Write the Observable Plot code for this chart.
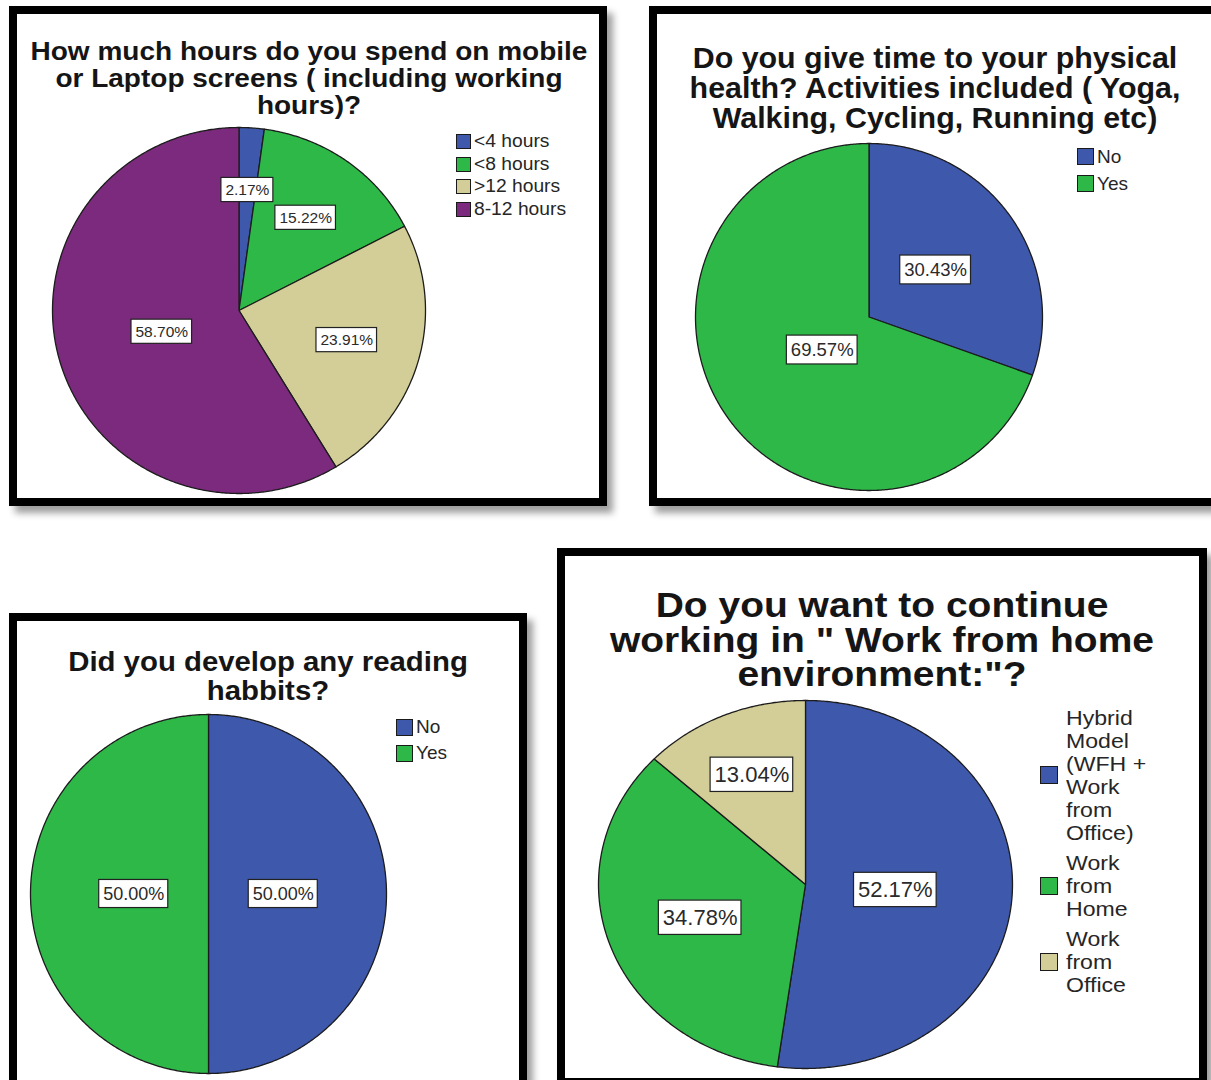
<!DOCTYPE html>
<html>
<head>
<meta charset="utf-8">
<script src="https://cdn.jsdelivr.net/npm/d3@7"></script>
<script src="https://cdn.jsdelivr.net/npm/@observablehq/plot@0.6"></script>
<style>
  html, body { margin: 0; padding: 0; background: #fff; }
  body { width: 1211px; height: 1080px; overflow: hidden; position: relative;
         font-family: "Liberation Sans", Arial, sans-serif; }
  .frame { position: absolute; box-sizing: border-box; border: 8px solid #000; background: #fff;
           box-shadow: 6px 7px 7px rgba(0,0,0,0.38); }
  .title { position: absolute; font-weight: bold; text-align: center; color: #151515;
           white-space: nowrap; transform-origin: center top; }
  .chart { position: absolute; }
  .legend { position: absolute; color: #262626; white-space: nowrap; transform-origin: left top; }
  .legend .row { display: flex; align-items: center; }
  .legend .sw { box-sizing: border-box; border: 1.5px solid #1a1a1a; flex: none; }
</style>
</head>
<body>
<script>
// Survey answers, in percent of respondents
const screenCategories = ["<4 hours", "<8 hours", ">12 hours", "8-12 hours"];
const screenPercent = [2.17, 15.22, 23.91, 58.70];

const fitnessCategories = ["No", "Yes"];
const fitnessPercent = [30.43, 69.57];

const readingCategories = ["No", "Yes"];
const readingPercent = [50.00, 50.00];

const wfhCategories = ["Hybrid Model (WFH + Work from Office)", "Work from Home", "Work from Office"];
const wfhPercent = [52.17, 34.78, 13.04];
const wfhLegendLines = [
  ["Hybrid", "Model", "(WFH +", "Work", "from", "Office)"],
  ["Work", "from", "Home"],
  ["Work", "from", "Office"]
];

// Default SPSS category colours
const sliceColors = ["#3E58AC", "#2EB848", "#D3CE97", "#7C2A7D"];

const FONT = '"Liberation Sans", Arial, sans-serif';

// Panel layout: frame, title, pie geometry, label radius fractions, legend
const panels = [
  {
    frame: {left: 9, top: 6, width: 598, height: 500},
    title: ["How much hours do you spend on mobile", "or Laptop screens ( including working", "hours)?"],
    titleBox: {cx: 309, top: 38, size: 25, lh: 27, sx: 1.12},
    categories: screenCategories, values: screenPercent,
    pie: {cx: 238.5, cy: 310, rx: 186.5, ry: 183},
    labelR: [0.66, 0.62, 0.6, 0.43], labelSize: 15.5,
    legend: {left: 456, top: 130, sw: 15, size: 17.5, lh: 22.7, gap: 0, ml: 3, sx: 1.1,
             lines: screenCategories.map(d => [d])}
  },
  {
    frame: {left: 649, top: 6, width: 620, height: 500},
    title: ["Do you give time to your physical", "health? Activities included ( Yoga,", "Walking, Cycling, Running etc)"],
    titleBox: {cx: 935, top: 43, size: 29.5, lh: 30, sx: 1.03},
    categories: fitnessCategories, values: fitnessPercent,
    pie: {cx: 868.5, cy: 316.5, rx: 173.5, ry: 173.5},
    labelR: [0.47, 0.33], labelSize: 18.5,
    legend: {left: 1077, top: 143, sw: 17, size: 19, lh: 27, gap: 0, ml: 3, sx: 1.0,
             lines: fitnessCategories.map(d => [d])}
  },
  {
    frame: {left: 9, top: 613, width: 518, height: 520},
    title: ["Did you develop any reading", "habbits?"],
    titleBox: {cx: 268, top: 647, size: 28.5, lh: 29, sx: 1.03},
    categories: readingCategories, values: readingPercent,
    pie: {cx: 208, cy: 893.5, rx: 178, ry: 179.5},
    labelR: [0.42, 0.42], labelSize: 18,
    legend: {left: 396, top: 714, sw: 17, size: 19, lh: 26, gap: 0, ml: 3, sx: 1.0,
             lines: readingCategories.map(d => [d])}
  },
  {
    frame: {left: 557, top: 548, width: 650, height: 538},
    title: ["Do you want to continue", "working in \" Work from home", "environment:\"?"],
    titleBox: {cx: 882, top: 588, size: 34.5, lh: 34.5, sx: 1.13},
    categories: wfhCategories, values: wfhPercent,
    pie: {cx: 805, cy: 884, rx: 207, ry: 184},
    labelR: [0.435, 0.54, 0.65], labelSize: 22,
    legend: {left: 1040, top: 706, sw: 18, size: 21, lh: 23, gap: 7, ml: 8, sx: 1.1,
             lines: wfhLegendLines}
  }
];

const measureCtx = document.createElement("canvas").getContext("2d");
function textWidth(text, size) {
  measureCtx.font = `${size}px ${FONT}`;
  return measureCtx.measureText(text).width;
}

function piePanel(p) {
  const {cx, cy, rx, ry} = p.pie;
  const pad = 3;
  const colors = sliceColors.slice(0, p.categories.length);
  const total = d3.sum(p.values);

  // Slice outlines: centre, arc points clockwise from 12 o'clock, back to centre
  const slicePoints = [];
  const labels = [];
  let cum = 0;
  p.values.forEach((v, i) => {
    const a0 = 2 * Math.PI * cum / total;
    const a1 = 2 * Math.PI * (cum + v) / total;
    const cat = p.categories[i];
    slicePoints.push({category: cat, x: 0, y: 0});
    const steps = Math.max(2, Math.ceil((a1 - a0) / (Math.PI / 360)));
    for (let k = 0; k <= steps; k++) {
      const a = a0 + (a1 - a0) * k / steps;
      slicePoints.push({category: cat, x: Math.sin(a), y: Math.cos(a)});
    }
    const mid = (a0 + a1) / 2;
    const f = p.labelR[i];
    const text = v.toFixed(2) + "%";
    const hw = (textWidth(text, p.labelSize) / 2 + 4) / rx;
    const hh = (p.labelSize * 0.78) / ry;
    const lx = f * Math.sin(mid), ly = f * Math.cos(mid);
    labels.push({text, x: lx, y: ly, x1: lx - hw, x2: lx + hw, y1: ly - hh, y2: ly + hh});
    cum += v;
  });

  const svg = Plot.plot({
    width: 2 * rx + 2 * pad,
    height: 2 * ry + 2 * pad,
    margin: 0,
    x: {domain: [-1, 1], range: [pad, pad + 2 * rx], axis: null},
    y: {domain: [-1, 1], range: [pad + 2 * ry, pad], axis: null},
    color: {domain: p.categories, range: colors},
    style: {background: "transparent", fontFamily: FONT, overflow: "visible"},
    marks: [
      Plot.line(slicePoints, {x: "x", y: "y", z: "category", fill: "category",
        stroke: "#1c1c1c", strokeWidth: 1.3, curve: "linear-closed"}),
      Plot.rect(labels, {x1: "x1", x2: "x2", y1: "y1", y2: "y2", fill: "white",
        stroke: "#222", strokeWidth: 1.2}),
      Plot.text(labels, {x: "x", y: "y", text: "text", fontSize: p.labelSize, fill: "#2a2a2a"})
    ]
  });
  svg.classList.add("chart");
  svg.style.left = (cx - rx - pad) + "px";
  svg.style.top = (cy - ry - pad) + "px";
  return svg;
}

for (const p of panels) {
  const frame = document.createElement("div");
  frame.className = "frame";
  Object.assign(frame.style, {left: p.frame.left + "px", top: p.frame.top + "px",
    width: p.frame.width + "px", height: p.frame.height + "px"});
  document.body.appendChild(frame);
}

for (const p of panels) {
  // Title
  const t = document.createElement("div");
  t.className = "title";
  const tb = p.titleBox;
  t.style.fontSize = tb.size + "px";
  t.style.lineHeight = tb.lh + "px";
  t.style.top = tb.top + "px";
  t.style.left = (tb.cx - 400) + "px";
  t.style.width = "800px";
  t.style.transform = `scaleX(${tb.sx})`;
  p.title.forEach(line => {
    const d = document.createElement("div");
    d.textContent = line;
    t.appendChild(d);
  });
  document.body.appendChild(t);

  // Pie
  document.body.appendChild(piePanel(p));

  // Legend
  const L = p.legend;
  const lg = document.createElement("div");
  lg.className = "legend";
  lg.style.left = L.left + "px";
  lg.style.top = L.top + "px";
  lg.style.fontSize = L.size + "px";
  lg.style.lineHeight = L.lh + "px";
  p.categories.forEach((c, i) => {
    const row = document.createElement("div");
    row.className = "row";
    row.style.marginBottom = L.gap + "px";
    const sw = document.createElement("div");
    sw.className = "sw";
    sw.style.width = L.sw + "px";
    sw.style.height = L.sw + "px";
    sw.style.background = sliceColors[i];
    const lab = document.createElement("div");
    lab.style.marginLeft = L.ml + "px";
    lab.style.transform = `scaleX(${L.sx})`;
    lab.style.transformOrigin = "left center";
    L.lines[i].forEach(s => {
      const d = document.createElement("div");
      d.textContent = s;
      lab.appendChild(d);
    });
    row.appendChild(sw);
    row.appendChild(lab);
    lg.appendChild(row);
  });
  document.body.appendChild(lg);
}
</script>
</body>
</html>
